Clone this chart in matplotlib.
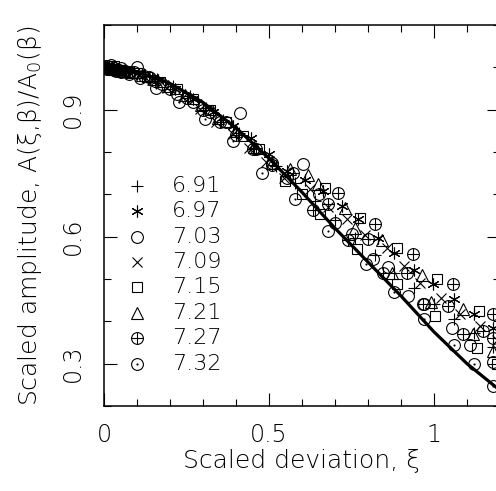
import matplotlib
matplotlib.use("Agg")
import matplotlib.pyplot as plt
from matplotlib.ticker import MultipleLocator, FixedLocator

plt.rcParams['font.family'] = ['DejaVu Sans']
plt.rcParams['font.weight'] = 'light'
plt.rcParams['axes.labelweight'] = 'light'

# theory curve
curve_x = [0.0, 0.1, 0.2, 0.3, 0.4, 0.5, 0.6, 0.7, 0.8, 0.9, 1.0, 1.1, 1.2]
curve_y = [1.0, 0.99, 0.962, 0.917, 0.857, 0.785, 0.705, 0.62, 0.54, 0.46, 0.375, 0.30, 0.237]

labels = ['6.91', '6.97', '7.03', '7.09', '7.15', '7.21', '7.27', '7.32']
kinds = ['plus', 'star', 'circle', 'cross', 'square', 'triangle', 'oplus', 'odot']

x_691 = [0.00, 0.012, 0.025, 0.04, 0.06, 0.085, 0.12, 0.16, 0.21, 0.26, 0.31, 0.36, 0.41,
         0.46, 0.52, 0.58, 0.64, 0.70, 0.76, 0.82, 0.88, 0.94, 1.00, 1.06, 1.12, 1.18]
y_691 = [1.000, 0.998, 1.001, 0.996, 0.993, 0.990, 0.984, 0.972, 0.955, 0.932, 0.905, 0.876, 0.845,
         0.810, 0.768, 0.726, 0.684, 0.640, 0.598, 0.556, 0.515, 0.478, 0.440, 0.405, 0.372, 0.340]

x_697 = [0.00, 0.015, 0.03, 0.045, 0.065, 0.09, 0.125, 0.165, 0.215, 0.27, 0.33, 0.39, 0.445,
         0.50, 0.555, 0.61, 0.665, 0.72, 0.77, 0.83, 0.88, 0.94, 0.997, 1.06, 1.121, 1.18]
y_697 = [0.999, 1.002, 0.997, 0.995, 0.992, 0.989, 0.981, 0.970, 0.950, 0.925, 0.895, 0.862, 0.832,
         0.795, 0.756, 0.733, 0.709, 0.672, 0.642, 0.598, 0.562, 0.522, 0.489, 0.452, 0.418, 0.385]

x_703 = [0.00, 0.01, 0.02, 0.035, 0.05, 0.075, 0.10, 0.135, 0.175, 0.22, 0.27, 0.32, 0.37, 0.412,
         0.46, 0.51, 0.555, 0.603, 0.65, 0.70, 0.75, 0.815, 0.86, 0.921, 0.97, 1.055, 1.11, 1.18]
y_703 = [1.003, 0.997, 1.005, 0.992, 0.998, 0.988, 1.000, 0.976, 0.960, 0.938, 0.918, 0.895, 0.870, 0.893,
         0.808, 0.775, 0.738, 0.772, 0.700, 0.633, 0.607, 0.548, 0.529, 0.461, 0.440, 0.385, 0.345, 0.305]

x_709 = [0.00, 0.012, 0.025, 0.04, 0.055, 0.08, 0.11, 0.145, 0.19, 0.24, 0.29, 0.34, 0.39, 0.44,
         0.49, 0.545, 0.624, 0.68, 0.736, 0.79, 0.858, 0.91, 0.958, 1.02, 1.08, 1.14, 1.19]
y_709 = [0.998, 1.001, 0.996, 0.994, 0.992, 0.987, 0.982, 0.970, 0.952, 0.930, 0.902, 0.872, 0.842, 0.810,
         0.776, 0.738, 0.713, 0.670, 0.642, 0.605, 0.574, 0.530, 0.491, 0.455, 0.418, 0.390, 0.355]

x_715 = [0.00, 0.015, 0.03, 0.05, 0.07, 0.10, 0.13, 0.17, 0.22, 0.27, 0.32, 0.37, 0.42, 0.47,
         0.548, 0.60, 0.655, 0.670, 0.767, 0.776, 0.888, 0.888, 1.003, 1.009, 1.130, 1.136, 1.19]
y_715 = [1.000, 0.996, 1.002, 0.993, 0.990, 0.986, 0.978, 0.966, 0.950, 0.925, 0.900, 0.870, 0.838, 0.806,
         0.732, 0.700, 0.654, 0.716, 0.572, 0.645, 0.489, 0.574, 0.413, 0.501, 0.338, 0.425, 0.300]

x_721 = [0.00, 0.01, 0.025, 0.04, 0.06, 0.085, 0.115, 0.15, 0.195, 0.245, 0.295, 0.345, 0.40, 0.455,
         0.51, 0.565, 0.618, 0.648, 0.730, 0.76, 0.842, 0.873, 0.964, 0.99, 1.088, 1.118, 1.18]
y_721 = [1.001, 0.999, 0.995, 0.997, 0.991, 0.989, 0.983, 0.973, 0.957, 0.935, 0.910, 0.880, 0.850, 0.812,
         0.775, 0.760, 0.746, 0.725, 0.668, 0.620, 0.591, 0.513, 0.510, 0.445, 0.430, 0.371, 0.330]

x_727 = [0.00, 0.01, 0.02, 0.03, 0.045, 0.065, 0.09, 0.12, 0.155, 0.20, 0.25, 0.30, 0.35, 0.40, 0.45,
         0.51, 0.573, 0.633, 0.679, 0.709, 0.739, 0.800, 0.821, 0.845, 0.918, 0.936, 0.967, 1.042,
         1.058, 1.088, 1.148, 1.179, 1.179]
y_727 = [1.000, 1.003, 0.997, 0.999, 0.994, 0.992, 0.988, 0.980, 0.968, 0.950, 0.928, 0.900, 0.872, 0.840, 0.806,
         0.770, 0.751, 0.664, 0.678, 0.702, 0.593, 0.595, 0.631, 0.513, 0.513, 0.560, 0.442, 0.437,
         0.489, 0.371, 0.378, 0.361, 0.418]

x_732 = [0.00, 0.015, 0.03, 0.05, 0.075, 0.11, 0.158, 0.227, 0.306, 0.39, 0.479, 0.579, 0.679,
         0.794, 0.88, 0.97, 1.06, 1.12, 1.18]
y_732 = [0.998, 0.995, 0.993, 0.990, 0.985, 0.975, 0.952, 0.917, 0.879, 0.827, 0.751, 0.690, 0.614,
         0.536, 0.470, 0.405, 0.345, 0.300, 0.248]

xs = [x_691, x_697, x_703, x_709, x_715, x_721, x_727, x_732]
ys = [y_691, y_697, y_703, y_709, y_715, y_721, y_727, y_732]


def draw_marker(ax, x, y, kind, ms=8.5):
    kw = dict(linestyle='none', color='black', mfc='none', mec='black', mew=0.8)
    if kind == 'plus':
        ax.plot(x, y, marker='+', ms=ms * 1.05, **kw)
    elif kind == 'star':
        ax.plot(x, y, marker=(6, 2, 0), ms=ms, **kw)
    elif kind == 'circle':
        ax.plot(x, y, marker='o', ms=ms, **kw)
    elif kind == 'cross':
        ax.plot(x, y, marker='x', ms=ms * 0.8, **kw)
    elif kind == 'square':
        ax.plot(x, y, marker='s', ms=ms * 0.8, **kw)
    elif kind == 'triangle':
        ax.plot(x, y, marker='^', ms=ms * 0.95, **kw)
    elif kind == 'oplus':
        ax.plot(x, y, marker='o', ms=ms, **kw)
        ax.plot(x, y, marker='+', ms=ms, **kw)
    elif kind == 'odot':
        ax.plot(x, y, marker='o', ms=ms, **kw)
        ax.plot(x, y, marker='.', ms=1.5, **kw)


fig = plt.figure(figsize=(4.96, 4.91), dpi=100)
ax = fig.add_axes([104 / 496, 85 / 491, 396 / 496, 381 / 491])

for x, y, kind in zip(xs, ys, kinds):
    draw_marker(ax, x, y, kind)

ax.plot(curve_x, curve_y, color='black', lw=2.3, solid_capstyle='butt')

# legend drawn in data coordinates, as in the original
for i, (lab, kind) in enumerate(zip(labels, kinds)):
    ly = 0.72 - 0.06 * i
    draw_marker(ax, [0.1], [ly], kind)
    ax.text(0.205, ly, lab, fontsize=16, va='center', ha='left')

ax.set_xlim(0, 1.2)
ax.set_ylim(0.2, 1.1)
ax.xaxis.set_major_locator(FixedLocator([0, 0.5, 1.0]))
ax.xaxis.set_minor_locator(MultipleLocator(0.1))
ax.yaxis.set_major_locator(FixedLocator([0.3, 0.6, 0.9]))
ax.yaxis.set_minor_locator(MultipleLocator(0.1))
ax.set_xticklabels(['0', '0.5', '1'])
ax.set_yticklabels(['0.3', '0.6', '0.9'], rotation=90, va='center')

ax.tick_params(which='both', direction='in', top=True, right=True, width=0.8, labelsize=17)
ax.tick_params(which='major', length=9.5)
ax.tick_params(which='minor', length=5)
ax.tick_params(axis='x', pad=12)
ax.tick_params(axis='y', pad=14)
for s in ax.spines.values():
    s.set_linewidth(1.1)

ax.set_xlabel('Scaled deviation, ξ', fontsize=18, labelpad=2)
ax.set_ylabel(r'Scaled amplitude, A(ξ,β)/A$_{\rm 0}$(β)', fontsize=18, labelpad=12)

fig.savefig('out.png', dpi=100)
